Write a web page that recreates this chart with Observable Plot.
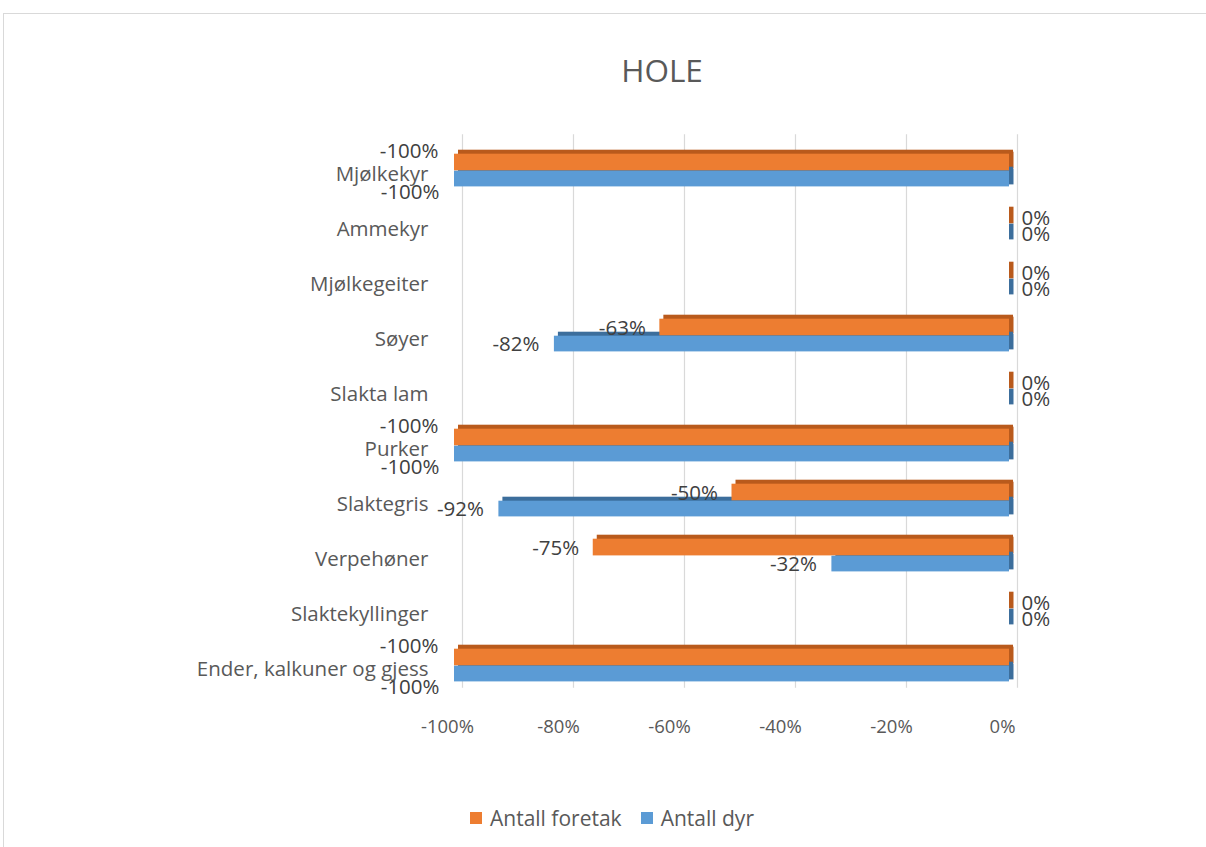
<!DOCTYPE html>
<html>
<head>
<meta charset="utf-8">
<script src="https://cdn.jsdelivr.net/npm/d3@7"></script>
<script src="https://cdn.jsdelivr.net/npm/@observablehq/plot@0.6"></script>
<style>
  html, body { margin: 0; padding: 0; background: #fff; }
  body { width: 1206px; height: 847px; position: relative; overflow: hidden; font-family: "Open Sans", sans-serif; color: #595959; }
  #frame { position: absolute; left: 3px; top: 13px; width: 1220px; height: 850px; border: 1px solid #d9d9d9; box-sizing: border-box; }
  #title { position: absolute; left: 562px; width: 200px; top: 52px; text-align: center; font-size: 31.5px; line-height: 36px; color: #595959; }
  #chart { position: absolute; left: 0; top: 0; }
  #legend { position: absolute; top: 804px; left: 470px; display: flex; align-items: center; font-size: 21px; color: #595959; }
  #legend .item { display: flex; align-items: center; margin-right: 19px; }
  #legend .sw { width: 12px; height: 12px; margin-right: 8px; }
</style>
</head>
<body>
<div id="frame"></div>
<div id="title">HOLE</div>
<div id="chart"></div>
<div id="legend"></div>
<script>
const categories = ["Mjølkekyr", "Ammekyr", "Mjølkegeiter", "Søyer", "Slakta lam", "Purker", "Slaktegris", "Verpehøner", "Slaktekyllinger", "Ender, kalkuner og gjess"];
const series = ["Antall foretak", "Antall dyr"];
const foretak = [-100, 0, 0, -63, 0, -100, -50, -75, 0, -100];
const dyr = [-100, 0, 0, -82, 0, -100, -92, -32, 0, -100];
const xTicks = [-100, -80, -60, -40, -20, 0];
const frontColors = ["#ED7D31", "#5B9BD5"];
const darkColors = ["#B95A1C", "#3C6E9C"];

const rows = categories.flatMap((c, i) => [
  {category: c, series: series[0], value: foretak[i]},
  {category: c, series: series[1], value: dyr[i]}
]);

const bySeries = s => rows.filter(d => d.series === s);
// vertical placement of each series inside a category band (style only)
const insets = [
  {insetTop: 10.7, insetBottom: 27.6},
  {insetTop: 27.7, insetBottom: 11.6}
];

const marks = [];
marks.push(Plot.ruleX(xTicks, {x: d => d, stroke: "#d9d9d9", strokeWidth: 1.2, dx: 8, dy: -7}));

// 3D back & side faces
series.forEach((s, i) => {
  marks.push(Plot.barX(bySeries(s), {x1: "value", x2: 0, y: "category", fill: darkColors[i], dx: 4, dy: -4, ...insets[i]}));
  marks.push(Plot.barX(bySeries(s), {x1: 0, x2: 0, y: "category", fill: darkColors[i], insetRight: -4.5, dy: -2, ...insets[i]}));
});
// front faces
series.forEach((s, i) => {
  marks.push(Plot.barX(bySeries(s), {x1: "value", x2: 0, y: "category", fill: frontColors[i], ...insets[i]}));
});

// data labels
const fmt = d => `${d.value}%`;
const lab = (s, filt, opts) => Plot.text(bySeries(s).filter(filt), {x: "value", y: "category", text: fmt, fill: "#404040", fontSize: 20.5, ...opts});
const isZero = d => d.value === 0;
const isFull = d => d.value === -100;
const isMid = d => d.value !== 0 && d.value !== -100;
marks.push(lab(series[0], isZero, {textAnchor: "start", dx: 12, dy: -8}));
marks.push(lab(series[1], isZero, {textAnchor: "start", dx: 12, dy: 8}));
marks.push(lab(series[0], isFull, {textAnchor: "end", dx: -16, dy: -20}));
marks.push(lab(series[1], isFull, {textAnchor: "end", dx: -15, dy: 21}));
marks.push(lab(series[0], isMid, {textAnchor: "end", dx: -14, dy: -8}));
marks.push(lab(series[1], isMid, {textAnchor: "end", dx: -15, dy: 8}));

marks.push(Plot.axisY({tickSize: 0, tickPadding: 26, fontSize: 20.5, dy: 3, label: null, fill: "#595959"}));
marks.push(Plot.axisX({ticks: xTicks, tickFormat: d => `${d}%`, tickSize: 0, tickPadding: 25, fontSize: 18.5, dx: -7, label: null, fill: "#595959"}));

const chart = Plot.plot({
  width: 1206,
  height: 760,
  marginTop: 141.3,
  marginBottom: 65.3,
  marginLeft: 454,
  marginRight: 197,
  style: {fontFamily: "Open Sans, sans-serif", fontSize: "18px", color: "#595959", background: "transparent"},
  x: {domain: [-100, 0]},
  y: {domain: categories, paddingInner: 0, paddingOuter: 0},
  marks
});
document.getElementById("chart").appendChild(chart);

const legend = document.getElementById("legend");
series.forEach((s, i) => {
  const item = document.createElement("div");
  item.className = "item";
  const sw = document.createElement("span");
  sw.className = "sw";
  sw.style.background = frontColors[i];
  const t = document.createElement("span");
  t.textContent = s;
  item.appendChild(sw);
  item.appendChild(t);
  legend.appendChild(item);
});
</script>
</body>
</html>
